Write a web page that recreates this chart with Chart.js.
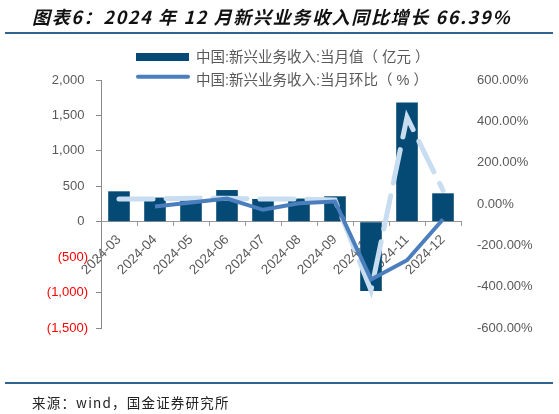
<!DOCTYPE html>
<html>
<head>
<meta charset="utf-8">
<script src="https://cdn.jsdelivr.net/npm/chart.js@4.4.1/dist/chart.umd.min.js"></script>
<style>
  html, body { margin: 0; padding: 0; background: #fff; }
  #wrap { position: relative; width: 559px; height: 414px; overflow: hidden; }
  #box { position: absolute; left: 0; top: 0; width: 559px; height: 414px; }
  .title { position: absolute; left: 32px; top: 3px; font: italic bold 18px "Noto Sans CJK SC", sans-serif; color: #111; letter-spacing: 1.65px; white-space: nowrap; }
  .rule { position: absolute; left: 5px; width: 548px; height: 2px; background: #2f6590; }
  .source { position: absolute; left: 32px; top: 392px; font: 13.5px "Noto Sans CJK SC", sans-serif; color: #222; letter-spacing: 1.2px; white-space: nowrap; }
</style>
</head>
<body>
<div id="wrap">
  <div id="box"><canvas id="revenue-chart"></canvas></div>
  <div class="title">图表6：2024 年 12 月新兴业务收入同比增长 66.39%</div>
  <div class="rule" style="top:32px"></div>
  <div class="rule" style="top:382px"></div>
  <div class="source">来源：wind，国金证券研究所</div>
</div>
<script>
// --- Chart data ---
const months = ['2024-03', '2024-04', '2024-05', '2024-06', '2024-07', '2024-08', '2024-09', '2024-10', '2024-11', '2024-12'];
const revenue = [429, 341, 359, 447, 321, 327, 359, -977, 1682, 401];   // 当月值（亿元）
const momPct = [null, -12, 7, 26, -28, 4, 12, -365, -272, -74];          // 当月环比（%）
const yoyPct = [24, 24, 28, 28, 24, 24, 19, -418, 420, 66.39];           // 同比（%）
const leftTicks = [-1500, -1000, -500, 0, 500, 1000, 1500, 2000];
const rightTicks = [-600, -400, -200, 0, 200, 400, 600];

const NAVY = '#054a74';
const BLUE = '#4a7ebd';
const PALE = '#c9ddf1';
const GREY = '#595959';

// legend drawn above the plot, two stacked rows (the dashed series has no entry)
const stackedLegend = {
    id: 'stackedLegend',
    afterDraw(chart) {
        const ctx = chart.ctx;
        const ds = chart.data.datasets;
        ctx.save();
        ctx.font = '14.5px "Liberation Sans", "Noto Sans CJK SC", sans-serif';
        ctx.textBaseline = 'middle';

        ctx.fillStyle = ds[0].backgroundColor;
        ctx.fillRect(136, 53, 53, 8);
        ctx.fillStyle = GREY;
        ctx.fillText(ds[0].label, 196, 57.5);

        ctx.strokeStyle = ds[1].borderColor;
        ctx.lineWidth = 4;
        ctx.lineCap = 'round';
        ctx.beginPath();
        ctx.moveTo(138, 76.7);
        ctx.lineTo(188, 76.7);
        ctx.stroke();
        ctx.fillText(ds[1].label, 196, 80.5);
        ctx.restore();
    }
};

function fmtLeft(v) {
    if (v < 0) return '(' + Math.abs(v).toLocaleString('en-US') + ')';
    return v.toLocaleString('en-US') + ' ';
}

new Chart(document.getElementById('revenue-chart'), {
    type: 'bar',
    data: {
        labels: months,
        datasets: [{
            label: '中国:新兴业务收入:当月值（ 亿元 ）',
            data: revenue,
            backgroundColor: NAVY,
            categoryPercentage: 0.6,
            barPercentage: 1,
            yAxisID: 'y',
            order: 3
        }, {
            type: 'line',
            label: '中国:新兴业务收入:当月环比（ % ）',
            data: momPct,
            borderColor: BLUE,
            backgroundColor: BLUE,
            borderWidth: 4,
            pointRadius: 0,
            tension: 0,
            yAxisID: 'y1',
            order: 1
        }, {
            type: 'line',
            label: '中国:新兴业务收入:当月同比（%）',
            data: yoyPct,
            borderColor: PALE,
            borderWidth: 5,
            borderDash: [34, 13],
            borderCapStyle: 'round',
            pointRadius: 0,
            tension: 0,
            yAxisID: 'y1',
            order: 2
        }]
    },
    options: {
        responsive: true,
        maintainAspectRatio: false,
        animation: false,
        layout: { padding: { top: 80, bottom: 86, left: 0, right: 0 } },
        plugins: {
            legend: { display: false },
            tooltip: { enabled: false }
        },
        scales: {
            x: {
                position: { y: 0 },
                z: 1,
                grid: { drawOnChartArea: false, tickLength: 4, color: '#999', offset: true },
                border: { color: '#999', width: 1 },
                ticks: {
                    color: GREY,
                    font: { family: '"Liberation Sans", Arial', size: 13.5 },
                    minRotation: 45,
                    maxRotation: 45,
                    padding: 6,
                    autoSkip: false
                }
            },
            y: {
                position: 'left',
                min: -1500,
                max: 2000,
                afterBuildTicks: scale => { scale.ticks = leftTicks.map(v => ({ value: v })); },
                afterFit: scale => { scale.width = 101; },
                grid: { drawOnChartArea: false, tickLength: 5, color: '#888' },
                border: { color: '#888', width: 1 },
                ticks: {
                    padding: 8,
                    font: { family: '"Liberation Sans", Arial', size: 13 },
                    color: ctx => (ctx.tick && ctx.tick.value < 0 ? '#ff0000' : GREY),
                    callback: v => fmtLeft(v)
                }
            },
            y1: {
                position: 'right',
                min: -600,
                max: 600,
                afterBuildTicks: scale => { scale.ticks = rightTicks.map(v => ({ value: v })); },
                afterFit: scale => { scale.width = 98; },
                grid: { display: false },
                border: { display: false },
                ticks: {
                    padding: 8,
                    font: { family: '"Liberation Sans", Arial', size: 13 },
                    color: GREY,
                    callback: v => v.toFixed(2) + '%'
                }
            }
        }
    },
    plugins: [stackedLegend]
});
</script>
</body>
</html>
